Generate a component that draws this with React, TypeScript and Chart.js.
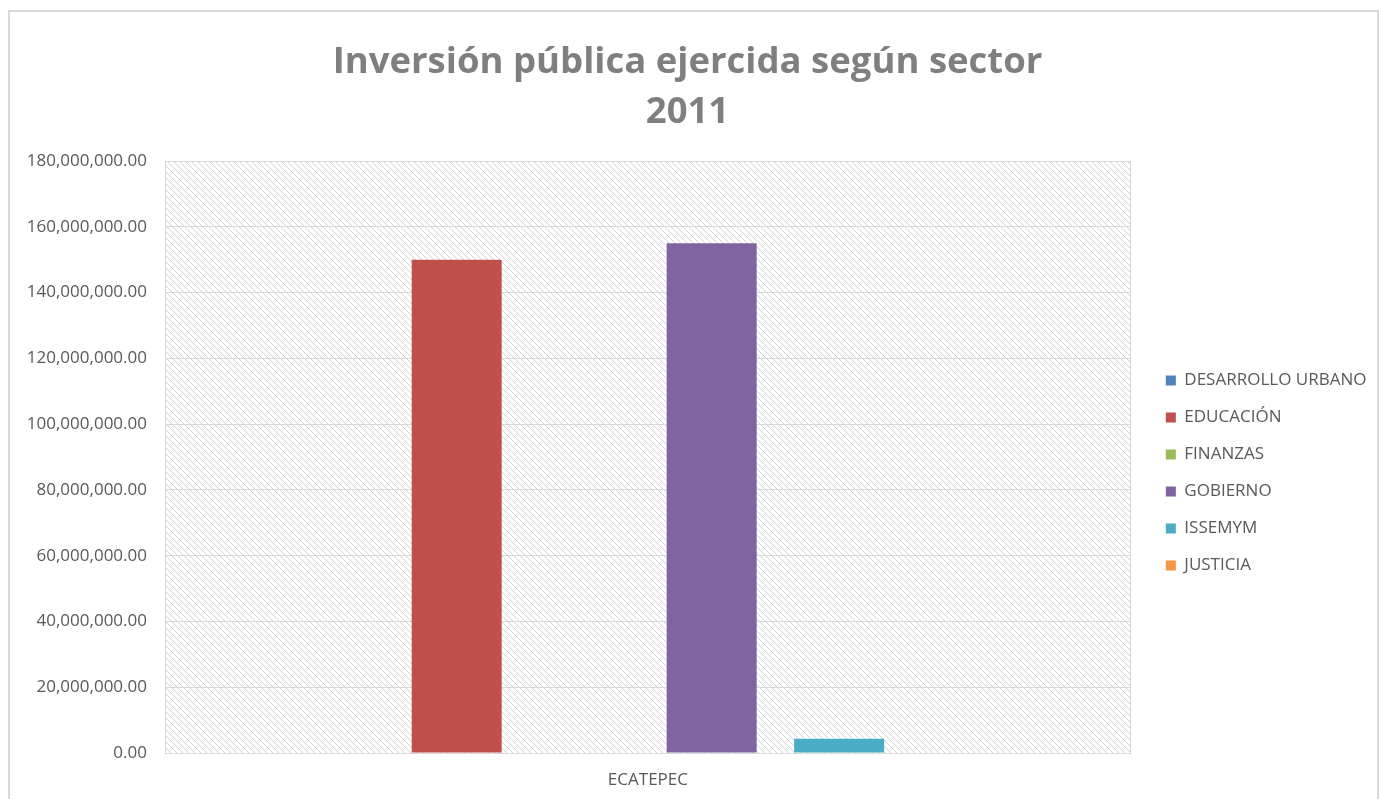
import React, { useEffect, useRef } from "react";
import { Chart, registerables } from "chart.js";

Chart.register(...registerables);

const categories = ["ECATEPEC"];
const seriesNames = ["DESARROLLO URBANO", "EDUCACIÓN", "FINANZAS", "GOBIERNO", "ISSEMYM", "JUSTICIA"];
const seriesValues = [0, 150000000, 0, 155000000, 4300000, 0];
const seriesColors = ["#4F81BD", "#C0504D", "#9BBB59", "#8064A2", "#4BACC6", "#F79646"];
const titleLines = ["Inversión pública ejercida según sector", "2011"];
const yMax = 180000000;
const yStep = 20000000;

const FONT = "'Open Sans', 'Noto Sans', sans-serif";

function makeHatch(): CanvasPattern | string {
  const c = document.createElement("canvas");
  const p = 6;
  c.width = p;
  c.height = p;
  const g = c.getContext("2d");
  if (!g) return "#ffffff";
  g.fillStyle = "#ffffff";
  g.fillRect(0, 0, p, p);
  g.fillStyle = "#d2d2d2";
  for (let i = 0; i < p; i++) {
    g.fillRect(i, i, 1, 1);
  }
  const pat = g.createPattern(c, "repeat");
  return pat || "#ffffff";
}

const frame = {
  id: "frame",
  beforeDraw(chart: any) {
    const { ctx, chartArea } = chart;
    ctx.save();
    ctx.fillStyle = "#ffffff";
    ctx.fillRect(0, 0, chart.width, chart.height);
    ctx.strokeStyle = "#d9d9d9";
    ctx.lineWidth = 2;
    ctx.strokeRect(9, 11, chart.width - 10, chart.height + 20);
    ctx.fillStyle = makeHatch();
    ctx.fillRect(chartArea.left, chartArea.top, chartArea.right - chartArea.left, chartArea.bottom - chartArea.top);
    ctx.restore();
  },
  afterDatasetsDraw(chart: any) {
    const { ctx, chartArea } = chart;
    ctx.save();
    ctx.strokeStyle = "#d9d9d9";
    ctx.lineWidth = 1;
    ctx.strokeRect(chartArea.left + 0.5, chartArea.top + 0.5, chartArea.right - chartArea.left - 1, chartArea.bottom - chartArea.top);
    ctx.restore();
  },
};

function fmt(v: number): string {
  return v.toLocaleString("en-US", { minimumFractionDigits: 2, maximumFractionDigits: 2 });
}

export default function App() {
  const ref = useRef<HTMLCanvasElement | null>(null);
  useEffect(() => {
    if (!ref.current) return;
    const chart = new Chart(ref.current, {
      type: "bar",
      data: {
        labels: categories,
        datasets: seriesNames.map((name, i) => ({
          label: name,
          data: [seriesValues[i]],
          backgroundColor: seriesColors[i],
          borderWidth: 0,
          categoryPercentage: 0.792,
          barPercentage: 0.706,
        })),
      },
      options: {
        animation: false,
        responsive: false,
        maintainAspectRatio: false,
        layout: { padding: { top: 0, right: 4, bottom: 0, left: 0 } },
        plugins: {
          title: {
            display: true,
            text: titleLines,
            color: "#7f7f7f",
            font: { family: FONT, size: 36.5, weight: "bold", lineHeight: 1.37 },
            padding: { top: 38, bottom: 23 },
          },
          legend: {
            display: true,
            position: "right",
            align: "center",
            title: {
              display: true,
              text: "",
              font: { size: 1, lineHeight: 1 },
              padding: 73,
            },
            labels: {
              boxWidth: 10,
              boxHeight: 10,
              padding: 20,
              color: "#595959",
              font: { family: FONT, size: 17 },
            },
          },
          tooltip: { enabled: false },
        },
        scales: {
          x: {
            grid: { display: false, drawTicks: false },
            border: { display: false },
            ticks: { color: "#595959", font: { family: FONT, size: 17 }, padding: 17 },
            afterFit: (s: any) => {
              s.height = 46;
            },
          },
          y: {
            min: 0,
            max: yMax,
            ticks: {
              stepSize: yStep,
              color: "#595959",
              font: { family: FONT, size: 17 },
              padding: 18,
              callback: (v: any) => fmt(Number(v)),
            },
            grid: { color: "#d9d9d9", drawTicks: false, lineWidth: 1 },
            border: { display: false },
            afterFit: (s: any) => {
              s.width = 165;
            },
          },
          pad: {
            position: "right",
            display: true,
            grid: { display: false },
            border: { display: false },
            ticks: { display: false },
            afterFit: (s: any) => {
              s.width = 15;
            },
          },
        },
      },
      plugins: [frame],
    });
    return () => chart.destroy();
  }, []);
  return (
    <div style={{ position: "fixed", left: 0, top: 0, width: 1379, height: 799, background: "#fff" }}>
      <canvas ref={ref} width={1379} height={799} style={{ width: 1379, height: 799, display: "block" }} />
    </div>
  );
}
